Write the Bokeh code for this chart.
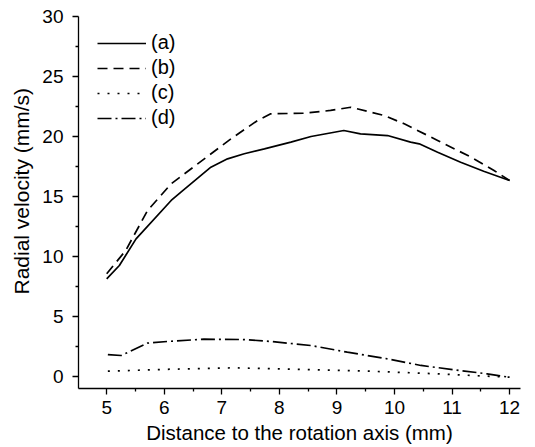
from bokeh.plotting import figure
from bokeh.models import Legend, LegendItem, FixedTicker, Title
from bokeh.embed import file_html
from bokeh.resources import INLINE

# ---- data ----
xa = [5.00, 5.22, 5.51, 6.12, 6.29, 6.81, 7.10, 7.39, 7.74, 8.20, 8.55, 9.12, 9.41, 9.88, 10.28, 10.43, 10.75, 11.15, 11.55, 12.00]
ya = [8.14, 9.25, 11.47, 14.67, 15.36, 17.44, 18.14, 18.56, 18.97, 19.53, 20.00, 20.50, 20.22, 20.08, 19.53, 19.39, 18.69, 17.86, 17.10, 16.33]

xb = [5.00, 5.33, 5.71, 6.12, 6.58, 7.16, 7.62, 7.85, 8.43, 8.89, 9.24, 9.82, 10.17, 10.75, 11.33, 11.73, 12.00]
yb = [8.56, 10.50, 13.83, 16.06, 17.72, 19.81, 21.33, 21.89, 21.94, 22.17, 22.44, 21.75, 21.06, 19.67, 18.28, 17.17, 16.33]

xc = [5.02, 6.12, 7.22, 8.43, 9.59, 10.75, 12.00]
yc = [0.44, 0.61, 0.72, 0.58, 0.44, 0.22, -0.06]

xd = [5.02, 5.25, 5.71, 6.06, 6.69, 7.39, 7.85, 8.55, 9.18, 9.88, 10.46, 11.04, 11.61, 11.99]
yd = [1.83, 1.75, 2.78, 2.92, 3.11, 3.08, 2.92, 2.58, 2.03, 1.47, 0.92, 0.56, 0.22, -0.06]

labels = ["(a)", "(b)", "(c)", "(d)"]
x_ticks = [5, 6, 7, 8, 9, 10, 11, 12]
y_ticks = [0, 5, 10, 15, 20, 25, 30]
x_title = "Distance to the rotation axis (mm)"
y_title = "Radial velocity (mm/s)"

FONT = "Liberation Sans"

p = figure(width=535, height=447, output_backend="svg", toolbar_location=None,
           x_range=(4.51, 12.19), y_range=(-1.0, 30.0),
           min_border_left=77, min_border_top=16, min_border_right=15, min_border_bottom=59)
p.outline_line_color = None
p.grid.visible = False
p.background_fill_color = "white"
p.border_fill_color = "white"

ra = p.line(xa, ya, line_color="black", line_width=1.7)
rb = p.line(xb, yb, line_color="black", line_width=1.7, line_dash="10 6")
rc = p.line(xc, yc, line_color="black", line_width=1.7, line_dash="2 8")
rd = p.line(xd, yd, line_color="black", line_width=1.7, line_dash="14 4 2 4")

for ax in (p.xaxis[0], p.yaxis[0]):
    ax.axis_line_color = "black"
    ax.axis_line_width = 1.3
    ax.major_tick_line_color = "black"
    ax.minor_tick_line_color = "black"
    ax.major_tick_line_width = 1.3
    ax.minor_tick_line_width = 1.3
    ax.major_tick_out = 6
    ax.major_tick_in = 0
    ax.minor_tick_out = 3
    ax.minor_tick_in = 0
    ax.major_label_text_font = FONT
    ax.major_label_text_font_size = "19px"
    ax.major_label_text_color = "black"
    ax.axis_label_text_font = FONT
    ax.axis_label_text_font_size = "20.5px"
    ax.axis_label_text_font_style = "normal"
    ax.axis_label_text_color = "black"

p.xaxis[0].ticker = FixedTicker(ticks=x_ticks, minor_ticks=[x + 0.5 for x in x_ticks[:-1]])
p.yaxis[0].ticker = FixedTicker(ticks=y_ticks, minor_ticks=[y + 2.5 for y in y_ticks[:-1]])
p.xaxis[0].axis_label = x_title
p.xaxis[0].major_label_standoff = 6
p.xaxis[0].axis_label_standoff = 4
p.yaxis[0].major_label_standoff = 9

ytitle = Title(text=y_title, align="left", offset=94, standoff=14,
               text_font=FONT, text_font_size="21px", text_font_style="normal",
               text_color="black")
p.add_layout(ytitle, "left")

legend = Legend(items=[LegendItem(label=l, renderers=[r]) for l, r in zip(labels, [ra, rb, rc, rd])],
                location=(19, 259), padding=0, margin=0, spacing=2,
                glyph_width=49, glyph_height=20, label_height=20, label_standoff=5,
                label_text_font=FONT, label_text_font_size="20px", label_text_color="black",
                border_line_color=None, background_fill_alpha=0)
p.add_layout(legend)

open("out.html", "w").write(file_html(p, INLINE))
